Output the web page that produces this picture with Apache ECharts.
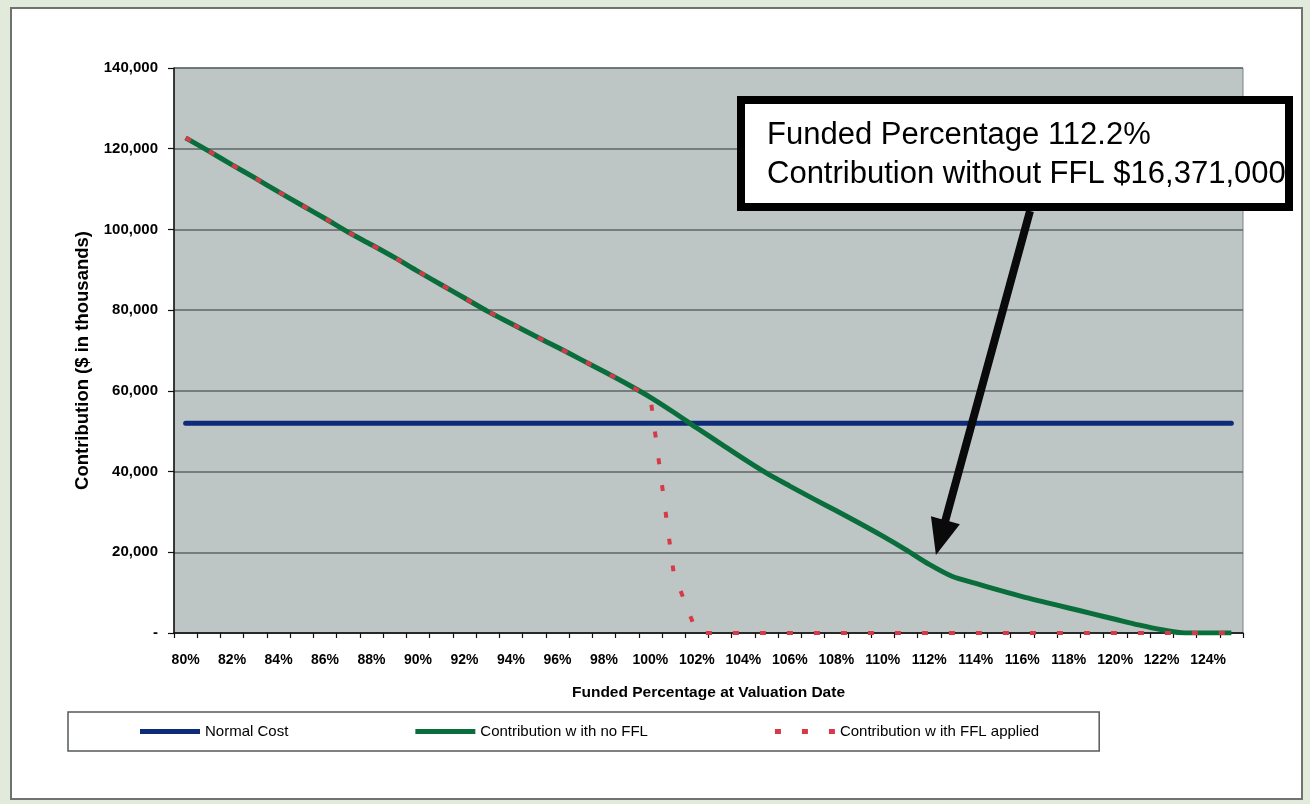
<!DOCTYPE html>
<html>
<head>
<meta charset="utf-8">
<script src="https://cdn.jsdelivr.net/npm/echarts@6/dist/echarts.min.js"></script>
<style>
  html, body { margin: 0; padding: 0; width: 1310px; height: 804px; background: #e2eadb; overflow: hidden; }
  #panel { position: absolute; left: 10px; top: 7px; width: 1293px; height: 793px; background: #ffffff; border: 2px solid #6f736e; box-sizing: border-box; }
  #chart { position: absolute; left: 0; top: 0; width: 1310px; height: 804px; }
</style>
</head>
<body>
<div id="panel"></div>
<div id="chart"></div>
<script>
// Funded percentage at valuation date (x categories, 1% steps)
const categories = [
  '80%', '81%', '82%', '83%', '84%', '85%', '86%', '87%', '88%', '89%',
  '90%', '91%', '92%', '93%', '94%', '95%', '96%', '97%', '98%', '99%',
  '100%', '101%', '102%', '103%', '104%', '105%', '106%', '107%', '108%', '109%',
  '110%', '111%', '112%', '113%', '114%', '115%', '116%', '117%', '118%', '119%',
  '120%', '121%', '122%', '123%', '124%', '125%'
];

// Contribution, $ in thousands
const normalCost = [
  52000, 52000, 52000, 52000, 52000, 52000, 52000, 52000, 52000, 52000,
  52000, 52000, 52000, 52000, 52000, 52000, 52000, 52000, 52000, 52000,
  52000, 52000, 52000, 52000, 52000, 52000, 52000, 52000, 52000, 52000,
  52000, 52000, 52000, 52000, 52000, 52000, 52000, 52000, 52000, 52000,
  52000, 52000, 52000, 52000, 52000, 52000
];

const contributionNoFFL = [
  122700, 119400, 116000, 112700, 109300, 106000, 102700, 99300, 96200, 93000,
  89600, 86300, 83000, 79700, 76700, 73700, 70800, 67800, 64800, 61700,
  58400, 54700, 50800, 47000, 43200, 39600, 36400, 33300, 30300, 27200,
  24000, 20600, 17000, 14000, 12300, 10600, 9000, 7600, 6200, 4800,
  3400, 2000, 800, 0, 0, 0
];

const contributionFFL = [
  122700, 119400, 116000, 112700, 109300, 106000, 102700, 99300, 96200, 93000,
  89600, 86300, 83000, 79700, 76700, 73700, 70800, 67800, 64800, 61700,
  58400, 14900, 0, 0, 0, 0, 0, 0, 0, 0,
  0, 0, 0, 0, 0, 0, 0, 0, 0, 0,
  0, 0, 0, 0, 0, 0
];

const seriesNames = ['Normal Cost', 'Contribution w ith no FFL', 'Contribution w ith FFL applied'];

// Callout: funded percentage and contribution it points at
const calloutPoint = { pct: 112.2, value: 16371 };
const calloutLines = ['Funded Percentage 112.2%', 'Contribution without FFL $16,371,000'];

const sans = "'Liberation Sans', Arial, sans-serif";

// Legend swatches: solid bar and three short dashes
const solidIcon = 'path://M0,0H60V5H0Z';
const dashIcon = 'path://M0,0H6V5H0Z M27,0H33V5H27Z M54,0H60V5H54Z';

const chart = echarts.init(document.getElementById('chart'), null, { renderer: 'canvas' });

const option = {
  animation: false,
  backgroundColor: 'transparent',
  grid: {
    left: 174, right: 67, top: 68, bottom: 171,
    show: true,
    backgroundColor: '#bec6c5',
    borderColor: '#7d8383',
    borderWidth: 1
  },
  xAxis: {
    type: 'category',
    data: categories,
    boundaryGap: true,
    axisLine: { show: true, lineStyle: { color: '#111', width: 1.5 } },
    axisTick: { show: true, interval: 0, length: 5, lineStyle: { color: '#111', width: 1.2 } },
    axisLabel: {
      interval: 1, margin: 20, hideOverlap: false,
      fontFamily: sans, fontWeight: 'bold', fontSize: 14, color: '#000'
    },
    splitLine: { show: false },
    name: 'Funded Percentage at Valuation Date',
    nameLocation: 'middle',
    nameGap: 52,
    nameTextStyle: { fontFamily: sans, fontWeight: 'bold', fontSize: 15.5, color: '#000' }
  },
  yAxis: {
    type: 'value',
    min: 0, max: 140000, interval: 20000,
    axisLine: { show: true, lineStyle: { color: '#111', width: 1.5 } },
    axisTick: { show: true, length: 6, lineStyle: { color: '#111', width: 1.2 } },
    splitLine: { show: true, lineStyle: { color: '#5f6565', width: 1.5 } },
    axisLabel: {
      margin: 16,
      formatter: v => (v === 0 ? '-' : v.toLocaleString('en-US')),
      fontFamily: sans, fontWeight: 'bold', fontSize: 15, color: '#000'
    },
    name: 'Contribution ($ in thousands)',
    nameLocation: 'middle',
    nameGap: 76,
    nameTextStyle: { fontFamily: sans, fontWeight: 'bold', fontSize: 18.5, color: '#000', padding: [0, 20, 0, 0] }
  },
  legend: {
    left: 68, top: 712,
    padding: [12, 60, 12, 72],
    backgroundColor: '#ffffff',
    borderColor: '#55595a',
    borderWidth: 1.5,
    itemWidth: 60, itemHeight: 5, itemGap: 127,
    textStyle: { fontFamily: sans, fontSize: 15, color: '#000' },
    data: [
      { name: seriesNames[0], icon: solidIcon },
      { name: seriesNames[1], icon: solidIcon },
      { name: seriesNames[2], icon: dashIcon }
    ]
  },
  series: [
    {
      name: seriesNames[0], type: 'line', data: normalCost,
      symbol: 'none', z: 2,
      itemStyle: { color: '#0d2b78' },
      lineStyle: { color: '#0d2b78', width: 5, cap: 'round' }
    },
    {
      name: seriesNames[1], type: 'line', data: contributionNoFFL,
      symbol: 'none', smooth: 0.3, z: 3,
      itemStyle: { color: '#0a6e3c' },
      lineStyle: { color: '#0a6e3c', width: 5 }
    },
    {
      name: seriesNames[2], type: 'line', data: contributionFFL,
      symbol: 'none', z: 4,
      itemStyle: { color: '#d63a48' },
      lineStyle: { color: '#d63a48', width: 4, type: [6, 21] }
    }
  ]
};

chart.setOption(option);

// Pixel position of a fractional funded percentage / contribution value
function toPixel(pct, value) {
  const base = Math.floor(pct);
  const frac = pct - base;
  const i = categories.indexOf(base + '%');
  const x0 = chart.convertToPixel({ xAxisIndex: 0 }, categories[i]);
  const x1 = chart.convertToPixel({ xAxisIndex: 0 }, categories[Math.min(i + 1, categories.length - 1)]);
  const y = chart.convertToPixel({ yAxisIndex: 0 }, value);
  return [x0 + (x1 - x0) * frac, y];
}

// Callout box with an arrow to the point
const box = { x: 741, y: 100, w: 548, h: 107, border: 8 };
const target = toPixel(calloutPoint.pct, calloutPoint.value);
const tip = [target[0] + 2, target[1] - 12];
const start = [1030, box.y + box.h + box.border / 2];
const dx = tip[0] - start[0], dy = tip[1] - start[1];
const len = Math.hypot(dx, dy);
const ux = dx / len, uy = dy / len;
const nx = -uy, ny = ux;
const headLen = 36, headHalf = 15, shaftHalf = 4;
const hb = [tip[0] - ux * headLen, tip[1] - uy * headLen];
const arrowPts = [
  [start[0] + nx * shaftHalf, start[1] + ny * shaftHalf],
  [hb[0] + nx * shaftHalf, hb[1] + ny * shaftHalf],
  [hb[0] + nx * headHalf, hb[1] + ny * headHalf],
  tip,
  [hb[0] - nx * headHalf, hb[1] - ny * headHalf],
  [hb[0] - nx * shaftHalf, hb[1] - ny * shaftHalf],
  [start[0] - nx * shaftHalf, start[1] - ny * shaftHalf]
];

chart.setOption({
  graphic: [
    {
      type: 'polygon', z: 100,
      shape: { points: arrowPts },
      style: { fill: '#0a0a0a' }
    },
    {
      type: 'rect', z: 101,
      shape: { x: box.x, y: box.y, width: box.w, height: box.h },
      style: { fill: '#ffffff', stroke: '#000000', lineWidth: box.border }
    },
    {
      type: 'text', z: 102, x: 767, y: 135,
      style: { text: calloutLines[0], fill: '#000', font: '31px ' + sans, verticalAlign: 'middle' }
    },
    {
      type: 'text', z: 102, x: 767, y: 174,
      style: { text: calloutLines[1], fill: '#000', font: '31px ' + sans, verticalAlign: 'middle' }
    }
  ]
});
</script>
</body>
</html>
